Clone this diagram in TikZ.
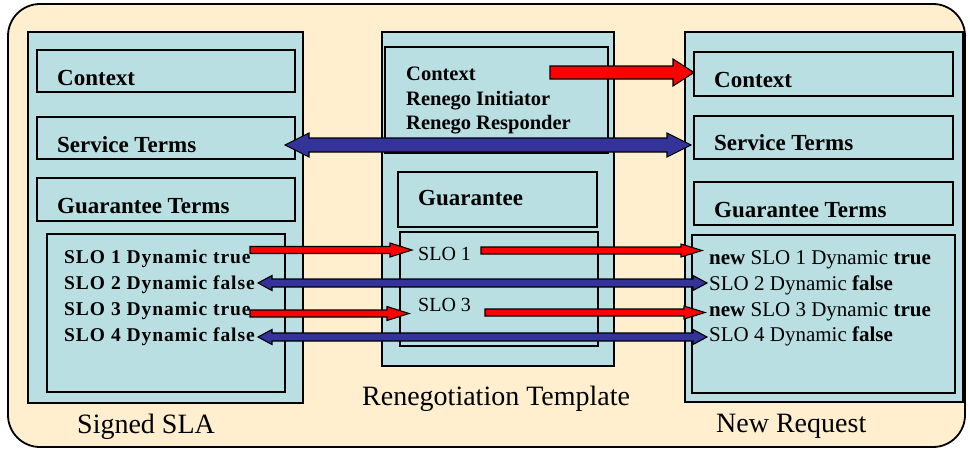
\documentclass[tikz,border=0pt]{standalone}
\usepackage{fontspec}
\setmainfont{Liberation Serif}
\usetikzlibrary{calc}
\definecolor{bgpeach}{HTML}{FFEFCF}
\definecolor{panelblue}{HTML}{B9DFE2}
\definecolor{arrblue}{HTML}{333399}
\definecolor{arrred}{HTML}{FF0000}
% right-pointing block arrow: #1 start, #2 tip, #3 shaft half height, #4 head half height, #5 head length, #6 colour
\newcommand\rblockarr[6]{%
  \filldraw[fill=#6, blockline] let \p1=(#1), \p2=(#2) in
    (\x1,\y1+#3) -- (\x2-#5,\y1+#3) -- (\x2-#5,\y1+#4) -- (\x2,\y1)
    -- (\x2-#5,\y1-#4) -- (\x2-#5,\y1-#3) -- (\x1,\y1-#3) -- cycle;}
% double-headed block arrow
\newcommand\dblockarr[6]{%
  \filldraw[fill=#6, blockline] let \p1=(#1), \p2=(#2) in
    (\x1,\y1) -- (\x1+#5,\y1+#4) -- (\x1+#5,\y1+#3) -- (\x2-#5,\y1+#3)
    -- (\x2-#5,\y1+#4) -- (\x2,\y1) -- (\x2-#5,\y1-#4) -- (\x2-#5,\y1-#3)
    -- (\x1+#5,\y1-#3) -- (\x1+#5,\y1-#4) -- cycle;}
\begin{document}
\begin{tikzpicture}[x=1pt,y=-1pt,
  panel/.style={draw=black, fill=panelblue, line width=1.3pt, inner sep=0pt, outer sep=0pt, anchor=north west},
  blockline/.style={draw=black, line width=1.1pt, line join=miter},
  boxlbl/.style={anchor=base west, inner sep=0pt, font=\fontsize{23}{27}\selectfont\bfseries},
  midlbl/.style={anchor=base west, inner sep=0pt, font=\fontsize{20.5}{24}\selectfont\bfseries},
  slolbl/.style={anchor=base west, inner sep=0pt, font=\fontsize{19.5}{24}\selectfont\bfseries\addfontfeature{LetterSpace=5}},
  slomid/.style={anchor=base west, inner sep=0pt, font=\fontsize{20}{24}\selectfont},
  newlbl/.style={anchor=base west, inner sep=0pt, font=\fontsize{21}{24}\selectfont},
  caption/.style={anchor=base west, inner sep=0pt, font=\fontsize{28}{32}\selectfont}]
\useasboundingbox (0,0) rectangle (970,450);
% outer frame
\draw[fill=bgpeach, line width=1.8pt, rounded corners=32pt] (8,4) rectangle (965,447);

% ---- Signed SLA panel ----
\node[panel, minimum width=275pt, minimum height=371pt] (lp) at (28,32) {};
\node[panel, minimum width=258pt, minimum height=42pt] (lctxbox) at (37,50) {};
\node[panel, minimum width=258pt, minimum height=42pt] (lstbox) at (37,117) {};
\node[panel, minimum width=258pt, minimum height=43pt] (lgtbox) at (37,178) {};
\node[panel, minimum width=238pt, minimum height=158pt] (lslobox) at (47,234) {};
\node[boxlbl] (lctx) at (57,85) {Context};
\node[boxlbl] (lst) at (57,152) {Service Terms};
\node[boxlbl] (lgt) at (57,213) {Guarantee Terms};
\node[slolbl] (lslo1) at (64,263) {SLO 1 Dynamic true};
\node[slolbl] (lslo2) at (64,289) {SLO 2 Dynamic false};
\node[slolbl] (lslo3) at (64,315) {SLO 3 Dynamic true};
\node[slolbl] (lslo4) at (64,341) {SLO 4 Dynamic false};
\node[caption] (lcap) at (77,433) {Signed SLA};

% ---- Renegotiation Template panel ----
\node[panel, minimum width=232pt, minimum height=334pt] (mp) at (382,32) {};
\node[panel, minimum width=223pt, minimum height=106pt] (mtopbox) at (385,47) {};
\node[panel, minimum width=199pt, minimum height=55pt] (mgbox) at (398,172) {};
\node[panel, minimum width=198pt, minimum height=114pt] (mslobox) at (400,232) {};
\node[midlbl] (mctx) at (406,80) {Context};
\node[midlbl] (mini) at (406,105) {Renego Initiator};
\node[midlbl] (mres) at (406,129) {Renego Responder};
\node[boxlbl] (mg) at (418,205) {Guarantee};
\node[slomid] (mslo1) at (418,260) {SLO 1};
\node[slomid] (mslo3) at (418,311) {SLO 3};
\node[caption] (mcap) at (362,405) {Renegotiation Template};

% ---- New Request panel ----
\node[panel, minimum width=278pt, minimum height=370pt] (rp) at (685,32) {};
\node[panel, minimum width=259pt, minimum height=44pt] (rctxbox) at (694,52) {};
\node[panel, minimum width=259pt, minimum height=43pt] (rstbox) at (694,116) {};
\node[panel, minimum width=259pt, minimum height=43pt] (rgtbox) at (694,182) {};
\node[panel, minimum width=263pt, minimum height=158pt] (rslobox) at (692,235) {};
\node[boxlbl] (rctx) at (714,87) {Context};
\node[boxlbl] (rst) at (714,150) {Service Terms};
\node[boxlbl] (rgt) at (714,217) {Guarantee Terms};
\node[newlbl] (rslo1) at (709,264) {\textbf{new} SLO 1 Dynamic \textbf{true}};
\node[newlbl] (rslo2) at (709,290) {SLO 2 Dynamic \textbf{false}};
\node[newlbl] (rslo3) at (709,316) {\textbf{new} SLO 3 Dynamic \textbf{true}};
\node[newlbl] (rslo4) at (709,341) {SLO 4 Dynamic \textbf{false}};
\node[caption] (rcap) at (716,432) {New Request};

% ---- connector end points ----
\coordinate (ctxS) at (550,72.5);
\coordinate (ctxE) at (rctxbox.west |- ctxS);
\coordinate (stS) at (285,145);
\coordinate (stE) at (691,145);
\coordinate (s1a) at (250,250);
\coordinate (s1b) at (412,250);
\coordinate (s1c) at (481,250.5);
\coordinate (s1d) at (702,250.5);
\coordinate (s2a) at (258,283);
\coordinate (s2b) at (707,283);
\coordinate (s3a) at (250,313.5);
\coordinate (s3b) at (409,313.5);
\coordinate (s3c) at (485,312.5);
\coordinate (s3d) at (705,312.5);
\coordinate (s4a) at (258,337);
\coordinate (s4b) at (707,337);

% ---- block arrows ----
\rblockarr{ctxS}{ctxE}{6.5pt}{13.5pt}{21pt}{arrred}
\dblockarr{stS}{stE}{7pt}{12pt}{24pt}{arrblue}
\rblockarr{s1a}{s1b}{3.5pt}{7pt}{22pt}{arrred}
\rblockarr{s1c}{s1d}{3.5pt}{6.5pt}{21pt}{arrred}
\dblockarr{s2a}{s2b}{4pt}{7.5pt}{14pt}{arrblue}
\rblockarr{s3a}{s3b}{3.5pt}{7pt}{22pt}{arrred}
\rblockarr{s3c}{s3d}{3.5pt}{6.5pt}{21pt}{arrred}
\dblockarr{s4a}{s4b}{4pt}{7.5pt}{14pt}{arrblue}
\end{tikzpicture}
\end{document}
